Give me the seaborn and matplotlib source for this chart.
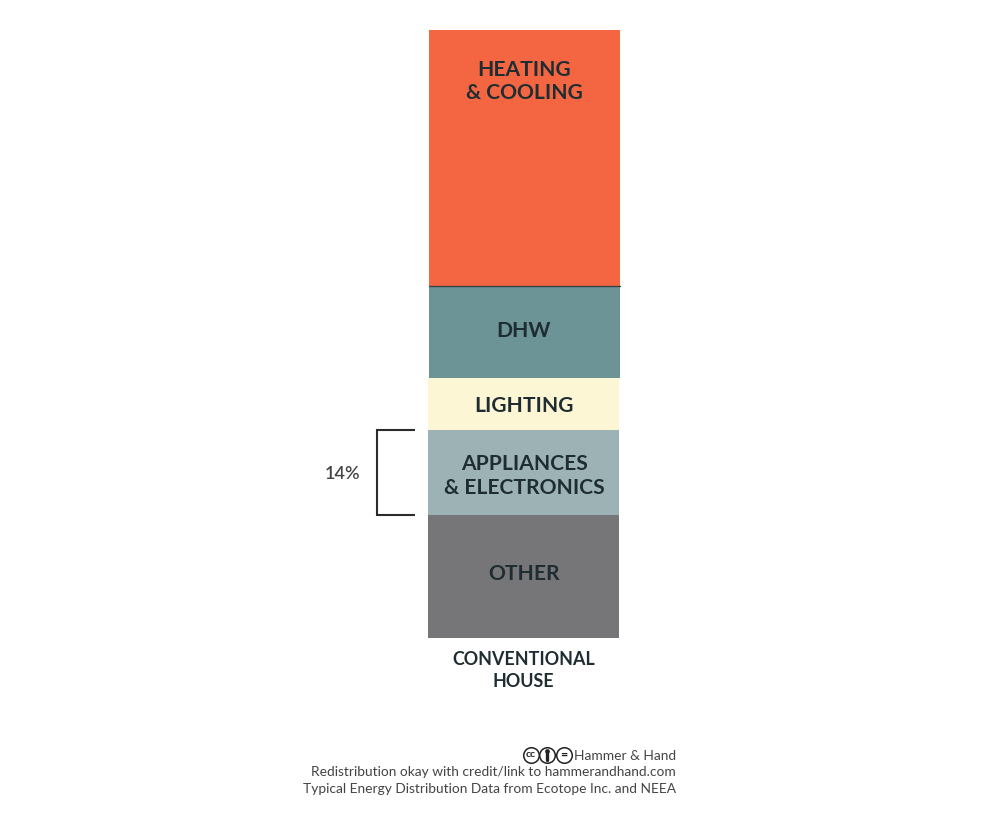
import matplotlib
matplotlib.use('Agg')
import matplotlib.pyplot as plt
import numpy as np
import seaborn as sns

# energy use share in percent, bottom to top
segments = ['OTHER', 'APPLIANCES\n& ELECTRONICS', 'LIGHTING', 'DHW', 'HEATING\n& COOLING']
shares = [20.2, 14.0, 8.6, 15.2, 42.0]
column_name = 'CONVENTIONAL\nHOUSE'
bracket_label = '14%'
footer_lines = ['Hammer & Hand',
                'Redistribution okay with credit/link to hammerandhand.com',
                'Typical Energy Distribution Data from Ecotope Inc. and NEEA']

colors = ['#767678', '#9DB2B4', '#FDF6D4', '#6C9395', '#F36641']
# the source picture has its segments not quite lined up
nudge = [-1.0, -0.8, -0.8, 0.3, 0.3]
label_shift = [-2.5, 3.5, 1.5, -0.5, 0]
dark = '#1F2D33'
grey = '#444444'
badge = '#222222'

sns.set_theme(style='white')
plt.rcParams['font.family'] = ['Lato', 'DejaVu Sans']

W, H = 1000, 823
fig = plt.figure(figsize=(W / 100, H / 100), dpi=100)
ax = fig.add_axes([0, 0, 1, 1])

centre = 524.3
bottoms = np.concatenate([[0], np.cumsum(shares)[:-1]])
for val, bot, col, dx in zip(shares, bottoms, colors, nudge):
    sns.barplot(x=[centre + dx], y=[val], bottom=bot, color=col, width=191,
                native_scale=True, saturation=1, linewidth=0, ax=ax)

# y axis stays in percent, x axis in pixels
px = 6.075
ax.set_xlim(0, W)
ax.set_ylim(-(H - 638) / px, 638 / px)
ax.axis('off')


def ypct(y):
    return (638 - y) / px


def put(x, y, s, **kw):
    # x, y in picture pixels
    ax.text(x, ypct(y), s, **kw)


# thin dark line between heating and DHW
ax.plot([centre - 95.2, centre + 95.8], [bottoms[4], bottoms[4]], color='#3A4446', lw=1.0)

for name, bot, val, shift in zip(segments, bottoms, shares, label_shift):
    ypos = 638 - (bot + val / 2) * px + shift
    if name.startswith('HEATING'):
        ypos = 81.5
    put(centre - 0.3, ypos, name, ha='center', va='center', fontsize=15.1, fontweight='bold',
        color=dark, linespacing=1.24)

put(523.5, 670.5, column_name, ha='center', va='center', fontsize=12.9, fontweight='bold',
    color=dark, linespacing=1.32)

# bracket around the appliances segment
lo, hi = bottoms[1], bottoms[1] + shares[1]
ax.plot([415, 377.2, 377.2, 415], [hi, hi, lo, lo], color='#2B2B2B', lw=1.5,
        solid_joinstyle='miter', solid_capstyle='butt')
put(342.5, 474.5, bracket_label, ha='center', va='center', fontsize=13, fontweight='semibold', color=grey)

# footer
for line, ypos in zip(footer_lines, [755.5, 772.5, 789]):
    put(676, ypos, line, ha='right', va='center', fontsize=9.95, color=grey)

# cc / by / nd badges
for cx, glyph, size in zip([530.5, 547, 564], ['cc', '', '='], [7.5, 0, 9]):
    ax.plot([cx], [ypct(755)], marker='o', ms=11.2, mfc='white', mec=badge, mew=1.1)
    if glyph:
        put(cx, 754.3, glyph, ha='center', va='center', fontsize=size, fontweight='bold', color=badge)
    else:
        ax.plot([cx], [ypct(750.5)], marker='o', ms=2.4, color=badge)
        ax.plot([cx, cx], [ypct(752.8), ypct(760)], color=badge, lw=2.4)

fig.savefig('out.png', dpi=100)
